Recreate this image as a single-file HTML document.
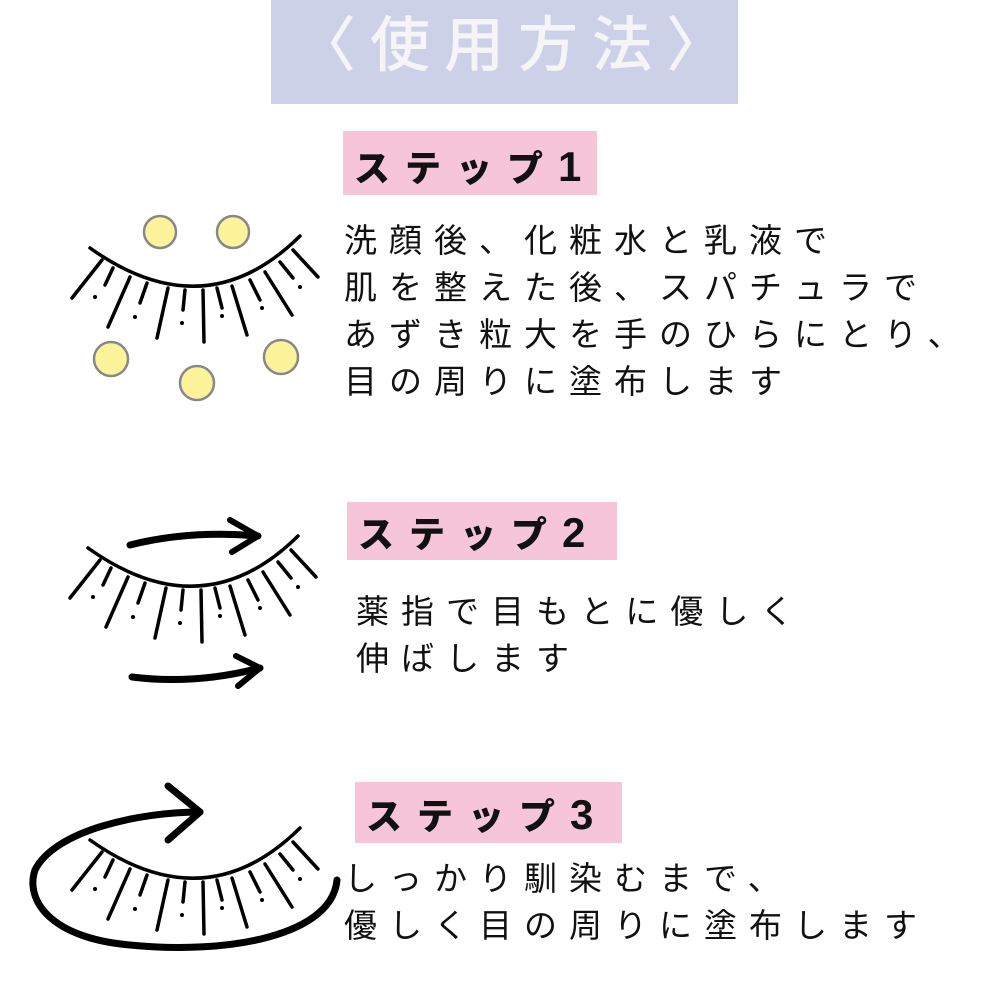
<!DOCTYPE html>
<html><head><meta charset="utf-8"><style>
html,body{margin:0;padding:0;background:#fff;}
body{width:1000px;height:1000px;position:relative;overflow:hidden;font-family:"Liberation Sans","Noto Sans CJK JP",sans-serif;}
.t{position:absolute;white-space:nowrap;line-height:1;}
.box{position:absolute;}
.title{color:#f5f5f8;font-size:60px;letter-spacing:14px;font-weight:500;}
.step{font-size:36px;font-weight:900;color:#111;letter-spacing:15px;}
.step b{font-size:42px;}
.body{font-size:33px;color:#111;letter-spacing:12px;line-height:47px;font-weight:400;}
</style></head><body>
<div class="box" style="left:271px;top:0;width:467px;height:104px;background:#ccd1e8"></div>
<div class="t title" style="left:296px;top:16px;">〈使用方法〉</div>

<div class="box" style="left:343px;top:131px;width:254px;height:64px;background:#f6c6d8"></div>
<div class="t step" style="left:354px;top:146px;">ステップ<b>1</b></div>
<div class="box" style="left:347px;top:502px;width:270px;height:58px;background:#f6c6d8"></div>
<div class="t step" style="left:358px;top:512px;">ステップ<b>2</b></div>
<div class="box" style="left:355px;top:782px;width:267px;height:61px;background:#f6c6d8"></div>
<div class="t step" style="left:366px;top:794px;">ステップ<b>3</b></div>

<div class="t body" style="left:344px;top:217px;">洗顔後、化粧水と乳液で<br>肌を整えた後、スパチュラで<br>あずき粒大を手のひらにとり、<br>目の周りに塗布します</div>
<div class="t body" style="left:356px;top:588px;">薬指で目もとに優しく<br>伸ばします</div>
<div class="t body" style="left:344px;top:855px;">しっかり馴染むまで、<br>優しく目の周りに塗布します</div>

<svg width="1000" height="1000" style="position:absolute;left:0;top:0" xmlns="http://www.w3.org/2000/svg">
<defs>
<g id="eye" stroke="#000" stroke-width="3.5" stroke-linecap="round" fill="none">
<path d="M90,248 Q205,330 300,236"/>
<path d="M102,260 L72,298 M113,268 L105,285 M130,277 L108,327 M147,283 L140,303 M168,288 L157,338 M185,290 L183,310 M203,290 L204,342 M217,288 L222,308 M232,286 L247,335 M250,280 L260,300 M265,272 L292,315 M280,262 L293,278 M293,250 L318,277"/>
<g fill="#000" stroke="none">
<circle cx="95" cy="297" r="2"/><circle cx="135" cy="317" r="2"/><circle cx="182" cy="323" r="2"/><circle cx="222" cy="316" r="2"/><circle cx="262" cy="308" r="2"/><circle cx="300" cy="287" r="2"/>
</g>
</g>
</defs>
<use href="#eye"/>
<g fill="#fcf39a" stroke="#888" stroke-width="2.5">
<circle cx="160" cy="232" r="16"/><circle cx="233" cy="232" r="16"/><circle cx="111" cy="359" r="17"/><circle cx="197" cy="383" r="17"/><circle cx="281" cy="357" r="17"/>
</g>
<use href="#eye" transform="translate(-2,300)"/>
<use href="#eye" transform="translate(0,592)"/>
<g stroke="#000" fill="none" stroke-linecap="round" stroke-linejoin="round">
<path d="M130,545 Q190,530 258,536" stroke-width="7"/>
<path d="M230,520 L258,536 L232,552" stroke-width="6"/>
<path d="M132,677 Q195,685 260,668" stroke-width="7"/>
<path d="M236,656 L260,668 L238,686" stroke-width="6"/>
<path d="M337,880 C332,935 230,955 130,945 C50,938 25,900 35,870 C55,830 140,812 200,812" stroke-width="7"/>
<path d="M168,786 L200,812 L168,840" stroke-width="7"/>
</g>
</svg>
</body></html>
